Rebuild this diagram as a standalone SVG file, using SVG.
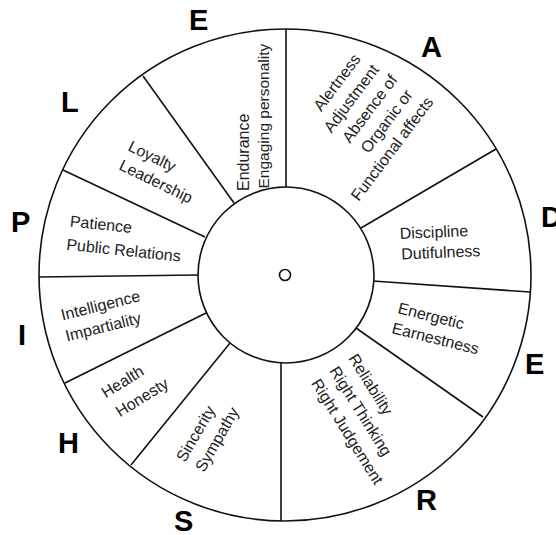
<svg xmlns="http://www.w3.org/2000/svg" width="556" height="535" viewBox="0 0 556 535">
<style>
.ln{stroke:#111;stroke-width:1.6;fill:none}
.t{font-family:"Liberation Sans",Arial,sans-serif;font-size:16px;fill:#222}
.m{text-anchor:middle}
.big{font-family:"Liberation Sans",Arial,sans-serif;font-size:29px;font-weight:bold;fill:#000}
</style>
<rect width="556" height="535" fill="#fff"/>
<g id="wheel">
<circle class="ln" cx="285" cy="275" r="246"/>
<circle class="ln" cx="286" cy="275" r="88"/>
<circle class="ln" cx="285" cy="275" r="5.5"/>
</g>
<g id="connectors">
<line class="ln" x1="286" y1="29" x2="286" y2="187"/>
<line class="ln" x1="143" y1="76" x2="234" y2="203"/>
<line class="ln" x1="63" y1="170" x2="205" y2="237"/>
<line class="ln" x1="39" y1="277" x2="198" y2="275"/>
<line class="ln" x1="65" y1="383" x2="206" y2="313"/>
<line class="ln" x1="131" y1="465" x2="230" y2="343"/>
<line class="ln" x1="281" y1="521" x2="281" y2="363"/>
<line class="ln" x1="483" y1="417" x2="356" y2="328"/>
<line class="ln" x1="530" y1="292" x2="373" y2="281"/>
<line class="ln" x1="496" y1="149" x2="361" y2="228"/>
</g>
<g id="seg-E1">
<text class="t" transform="translate(248.5,191) rotate(-90)">Endurance</text>
<text class="t" style="font-size:15.5px" transform="translate(268.5,188.5) rotate(-90)">Engaging personality</text>
</g>
<g id="seg-A">
<text class="t m" transform="translate(341.3,85.7) rotate(-53)">Alertness</text>
<text class="t m" transform="translate(355.6,101.7) rotate(-53)">Adjustment</text>
<text class="t m" transform="translate(374,112) rotate(-53)">Absence of</text>
<text class="t m" transform="translate(391,124.5) rotate(-53)">Organic or</text>
<text class="t m" transform="translate(396.4,152.1) rotate(-53)">Functional affects</text>
</g>
<g id="seg-D">
<text class="t" transform="translate(400,239) rotate(-2.5)">Discipline</text>
<text class="t" transform="translate(401.5,259.5) rotate(-2.5)">Dutifulness</text>
</g>
<g id="seg-E2">
<text class="t" transform="translate(397,313) rotate(14)">Energetic</text>
<text class="t" transform="translate(391,333) rotate(14)">Earnestness</text>
</g>
<g id="seg-R">
<text class="t m" transform="translate(366.1,387.3) rotate(58)">Reliability</text>
<text class="t m" transform="translate(356.1,414) rotate(58)">Right Thinking</text>
<text class="t m" transform="translate(342.8,434.6) rotate(58)">Right Judgement</text>
</g>
<g id="seg-S">
<text class="t" transform="translate(185,463) rotate(-60)">Sincerity</text>
<text class="t" transform="translate(204,473) rotate(-60)">Sympathy</text>
</g>
<g id="seg-H">
<text class="t" transform="translate(105.8,398.6) rotate(-32)">Health</text>
<text class="t" transform="translate(120,417.5) rotate(-32)">Honesty</text>
</g>
<g id="seg-I">
<text class="t" transform="translate(62.5,320.5) rotate(-14)">Intelligence</text>
<text class="t" transform="translate(67,341.5) rotate(-14)">Impartiality</text>
</g>
<g id="seg-P">
<text class="t" transform="translate(69.5,226.4) rotate(6)">Patience</text>
<text class="t" transform="translate(66,249.7) rotate(6)">Public Relations</text>
</g>
<g id="seg-L">
<text class="t" transform="translate(127,150) rotate(26)">Loyalty</text>
<text class="t" transform="translate(118,169) rotate(26)">Leadership</text>
</g>
<g id="letters">
<text class="big" x="189" y="30">E</text>
<text class="big" x="421" y="56.5">A</text>
<text class="big" x="541" y="227">D</text>
<text class="big" x="525" y="374">E</text>
<text class="big" x="416" y="510">R</text>
<text class="big" x="174" y="531">S</text>
<text class="big" x="58" y="453">H</text>
<text class="big" x="18" y="345">I</text>
<text class="big" x="11" y="232">P</text>
<text class="big" x="61" y="112">L</text>
</g>
</svg>
